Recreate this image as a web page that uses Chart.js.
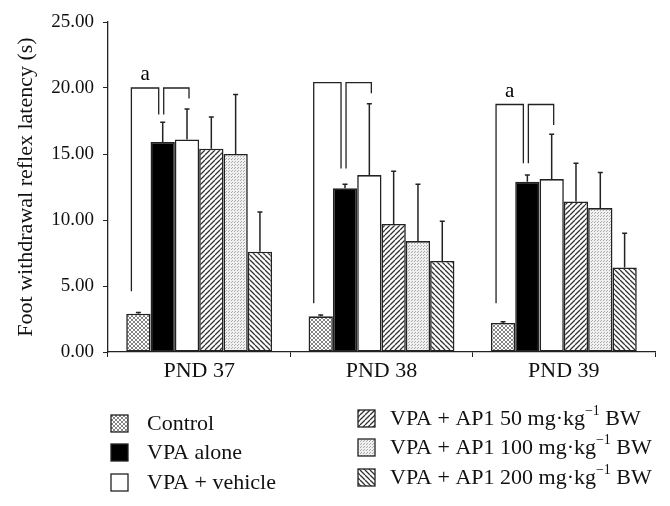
<!DOCTYPE html>
<html>
<head>
<meta charset="utf-8">
<script src="https://cdn.jsdelivr.net/npm/chart.js@4/dist/chart.umd.min.js"></script>
<style>
  html, body { margin: 0; padding: 0; background: #fff; }
  #wrap { width: 670px; height: 506px; }
</style>
</head>
<body>
<div id="wrap"><canvas id="latencyChart" width="670" height="506"></canvas></div>
<script>
// categories
const days = ['PND 37', 'PND 38', 'PND 39'];
const groups = ['Control', 'VPA alone', 'VPA + vehicle',
  'VPA + AP1 50 mg·kg−1 BW', 'VPA + AP1 100 mg·kg−1 BW', 'VPA + AP1 200 mg·kg−1 BW'];

// mean latency (s) per group, one value per day
const control = [2.9, 2.7, 2.2];
const vpaAlone = [15.9, 12.4, 12.9];
const vpaVehicle = [16.1, 13.4, 13.1];
const ap1_50 = [15.4, 9.7, 11.4];
const ap1_100 = [15.0, 8.4, 10.9];
const ap1_200 = [7.6, 6.9, 6.4];

// upper error (SD)
const controlErr = [0.1, 0.1, 0.1];
const vpaAloneErr = [1.5, 0.3, 0.5];
const vpaVehicleErr = [2.3, 5.4, 3.4];
const ap1_50Err = [2.4, 4.0, 2.9];
const ap1_100Err = [4.5, 4.3, 2.7];
const ap1_200Err = [3.0, 3.0, 2.6];

// significance brackets (heights in seconds)
const bracketTop = [20.0, 20.4, 18.75];
const bracketLeftLow = [4.6, 3.7, 3.7];
const bracketMid = [18.0, 13.9, 14.3];
const bracketRightLow = [19.2, 19.6, 17.2];
const bracketLetter = ['a', '', 'a'];

const yTicks = [0, 5, 10, 15, 20, 25];

const serif = '"Liberation Serif", "DejaVu Serif", serif';

function makePattern(draw, size) {
  const c = document.createElement('canvas');
  c.width = size; c.height = size;
  const g = c.getContext('2d');
  g.fillStyle = '#fff';
  g.fillRect(0, 0, size, size);
  draw(g, size);
  return document.getElementById('latencyChart').getContext('2d').createPattern(c, 'repeat');
}

const crossHatch = makePattern((g, s) => {
  g.strokeStyle = '#666';
  g.lineWidth = 0.8;
  g.beginPath();
  g.moveTo(0, 0); g.lineTo(s, s);
  g.moveTo(s, 0); g.lineTo(0, s);
  g.stroke();
}, 4);

const slashHatch = makePattern((g, s) => {
  g.strokeStyle = '#333';
  g.lineWidth = 1.3;
  g.beginPath();
  for (let k = -1; k <= 1; k++) {
    g.moveTo(k * s, s); g.lineTo(k * s + s, 0);
  }
  g.stroke();
}, 5);

const backHatch = makePattern((g, s) => {
  g.strokeStyle = '#333';
  g.lineWidth = 1.3;
  g.beginPath();
  for (let k = -1; k <= 1; k++) {
    g.moveTo(k * s, 0); g.lineTo(k * s + s, s);
  }
  g.stroke();
}, 5);

const stipple = makePattern((g, s) => {
  g.fillStyle = '#f0f0f0';
  g.fillRect(0, 0, s, s);
  g.fillStyle = '#aaa';
  g.fillRect(0, 0, 1, 1);
  g.fillRect(1, 2, 1, 1);
}, 3);

const fills = [crossHatch, '#000', '#fff', slashHatch, stipple, backHatch];
const values = [control, vpaAlone, vpaVehicle, ap1_50, ap1_100, ap1_200];
const errors = [controlErr, vpaAloneErr, vpaVehicleErr, ap1_50Err, ap1_100Err, ap1_200Err];

const errorBarPlugin = {
  id: 'errorBars',
  afterDatasetsDraw(chart) {
    const { ctx, scales: { y } } = chart;
    ctx.save();
    ctx.strokeStyle = '#222';
    ctx.lineWidth = 1.5;
    chart.data.datasets.forEach((ds, i) => {
      const meta = chart.getDatasetMeta(i);
      meta.data.forEach((bar, j) => {
        const top = y.getPixelForValue(ds.data[j] + errors[i][j]);
        ctx.beginPath();
        ctx.moveTo(bar.x, bar.y);
        ctx.lineTo(bar.x, top);
        ctx.moveTo(bar.x - 2.5, top);
        ctx.lineTo(bar.x + 2.5, top);
        ctx.stroke();
      });
    });
    ctx.restore();
  }
};

const bracketPlugin = {
  id: 'brackets',
  afterDatasetsDraw(chart) {
    const { ctx, scales: { y } } = chart;
    const c = chart.getDatasetMeta(0).data;
    const v = chart.getDatasetMeta(1).data;
    const w = chart.getDatasetMeta(2).data;
    ctx.save();
    ctx.strokeStyle = '#222';
    ctx.lineWidth = 1.3;
    days.forEach((d, j) => {
      const top = y.getPixelForValue(bracketTop[j]);
      const x1 = c[j].x - 7, x2 = v[j].x - 4, x3 = v[j].x + 1, x4 = w[j].x + 2;
      ctx.beginPath();
      ctx.moveTo(x1, y.getPixelForValue(bracketLeftLow[j]));
      ctx.lineTo(x1, top);
      ctx.lineTo(x2, top);
      ctx.lineTo(x2, y.getPixelForValue(bracketMid[j]));
      ctx.moveTo(x3, y.getPixelForValue(bracketMid[j]));
      ctx.lineTo(x3, top);
      ctx.lineTo(x4, top);
      ctx.lineTo(x4, y.getPixelForValue(bracketRightLow[j]));
      ctx.stroke();
      if (bracketLetter[j]) {
        ctx.fillStyle = '#000';
        ctx.font = '21px ' + serif;
        ctx.textAlign = 'center';
        ctx.textBaseline = 'bottom';
        ctx.fillText(bracketLetter[j], (x1 + x2) / 2, top - 3);
      }
    });
    ctx.restore();
  }
};

// two-column legend under the plot
const legendPlugin = {
  id: 'sideLegend',
  afterDraw(chart) {
    const { ctx } = chart;
    const cols = [
      { x: 111, tx: 147, rows: [423, 452, 482] },
      { x: 358, tx: 390, rows: [418, 447, 477] }
    ];
    ctx.save();
    ctx.textBaseline = 'middle';
    ctx.textAlign = 'left';
    groups.forEach((name, i) => {
      const col = cols[Math.floor(i / 3)];
      const yy = col.rows[i % 3];
      ctx.fillStyle = fills[i];
      ctx.fillRect(col.x, yy - 8, 17, 17);
      ctx.strokeStyle = '#222';
      ctx.lineWidth = 1.3;
      ctx.strokeRect(col.x, yy - 8, 17, 17);
      ctx.fillStyle = '#111';
      ctx.font = '22px ' + serif;
      const tx = col.tx;
      if (name.includes('mg·kg−1')) {
        const [pre, post] = name.split('−1');
        ctx.fillText(pre, tx, yy + 1);
        let px = tx + ctx.measureText(pre).width;
        ctx.font = '14px ' + serif;
        ctx.fillText('−1', px, yy - 7);
        px += ctx.measureText('−1').width;
        ctx.font = '22px ' + serif;
        ctx.fillText(post, px, yy + 1);
      } else {
        ctx.fillText(name, tx, yy + 1);
      }
    });
    ctx.restore();
  }
};

new Chart(document.getElementById('latencyChart'), {
  type: 'bar',
  data: {
    labels: days,
    datasets: groups.map((name, i) => ({
      label: name,
      data: values[i],
      backgroundColor: fills[i],
      borderColor: '#222',
      borderWidth: 1.6,
      borderSkipped: false,
      barPercentage: 1.0,
      categoryPercentage: 0.8
    }))
  },
  options: {
    responsive: false,
    animation: false,
    layout: { padding: { top: 22, right: 15, left: 0, bottom: 122 } },
    scales: {
      x: {
        grid: { display: true, drawOnChartArea: false, tickLength: 5, color: '#222', offset: true },
        border: { color: '#222', width: 1.3 },
        ticks: { color: '#111', font: { family: serif, size: 22 }, padding: 1 },
        afterFit(scale) { scale.height = 32; }
      },
      y: {
        min: 0,
        max: 25,
        afterBuildTicks(scale) { scale.ticks = yTicks.map(v => ({ value: v })); },
        grid: { display: true, drawOnChartArea: false, tickLength: 5, color: '#222' },
        border: { color: '#222', width: 1.3 },
        ticks: {
          color: '#111',
          font: { family: serif, size: 19 },
          padding: 9,
          callback: (v) => Number(v).toFixed(2)
        },
        title: {
          display: true,
          text: 'Foot withdrawal reflex latency (s)',
          color: '#111',
          font: { family: serif, size: 22 },
          padding: { top: 13, bottom: 0 }
        },
        afterFit(scale) { scale.width = 108; }
      }
    },
    plugins: {
      legend: { display: false },
      tooltip: { enabled: false }
    }
  },
  plugins: [errorBarPlugin, bracketPlugin, legendPlugin]
});
</script>
</body>
</html>
